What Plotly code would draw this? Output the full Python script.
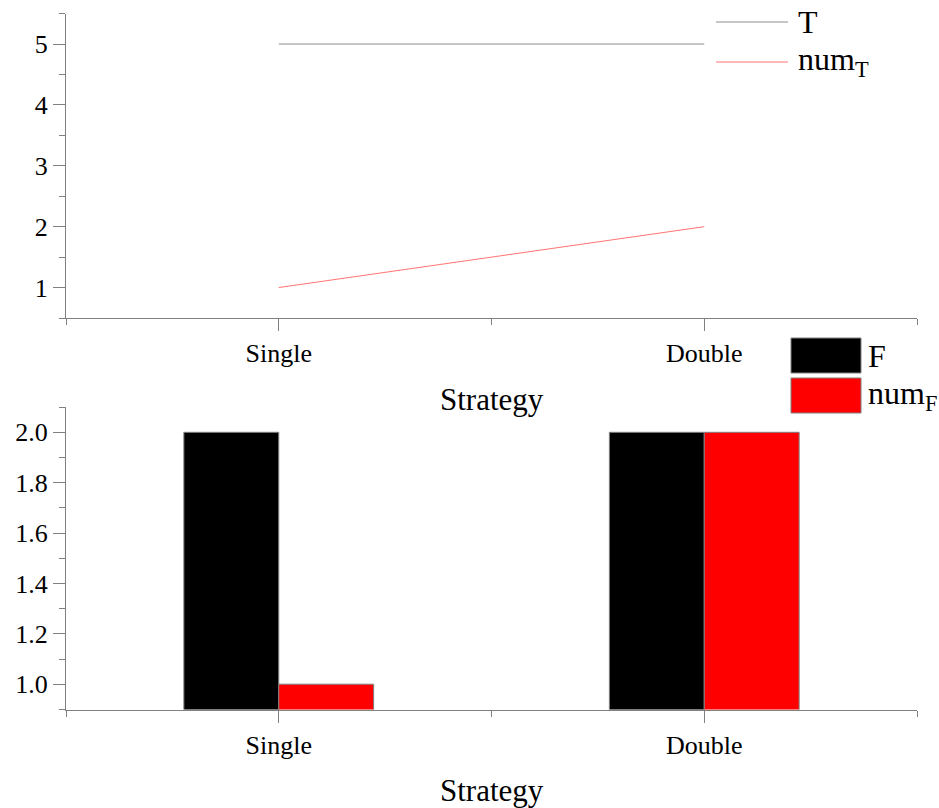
import plotly.graph_objects as go

# ---------------- data ----------------
categories = ["Single", "Double"]
T_values = [5, 5]
numT_values = [1, 2]
F_values = [2, 2]
numF_values = [1, 2]
top_series_names = ["T", "num<sub>T</sub>"]
bottom_series_names = ["F", "num<sub>F</sub>"]
top_yticks = [1, 2, 3, 4, 5]
bottom_yticks = [1.0, 1.2, 1.4, 1.6, 1.8, 2.0]
x_title = "Strategy"

W, H = 939, 808
FONT = "Liberation Serif"
AX = "#808080"


def px(x):
    return x / W


def py(y):
    return 1 - y / H


xpos = list(range(len(categories)))

fig = go.Figure()
fig.add_trace(go.Scatter(x=xpos, y=T_values, mode="lines", name="T",
                         line=dict(color="#8c8c8c", width=1),
                         xaxis="x", yaxis="y", showlegend=False))
fig.add_trace(go.Scatter(x=xpos, y=numT_values, mode="lines", name="num_T",
                         line=dict(color="rgba(255,0,0,0.55)", width=1),
                         xaxis="x", yaxis="y", showlegend=False))
fig.add_trace(go.Bar(x=xpos, y=F_values, name="F",
                     marker=dict(color="black", line=dict(color=AX, width=1)),
                     xaxis="x2", yaxis="y2", showlegend=False))
fig.add_trace(go.Bar(x=xpos, y=numF_values, name="num_F",
                     marker=dict(color="#ff0000", line=dict(color=AX, width=1)),
                     xaxis="x2", yaxis="y2", showlegend=False))

tickfont = dict(family=FONT, size=26, color="black")
common = dict(showline=True, linecolor=AX, linewidth=1, ticks="outside",
              ticklen=12, tickwidth=1, tickcolor=AX, showgrid=False,
              zeroline=False, tickfont=tickfont, automargin=False)

xdom = [px(66), px(917)]
xcommon = dict(common, range=[-0.5, 1.5], tickmode="array", tickvals=xpos,
               ticktext=categories,
               minor=dict(tickmode="array", tickvals=[-0.5, 0.5, 1.5],
                          ticklen=6, tickcolor=AX, ticks="outside", showgrid=False))

fig.update_layout(
    width=W, height=H,
    font=dict(family=FONT, size=26, color="black"),
    margin=dict(l=0, r=0, t=0, b=0),
    paper_bgcolor="white", plot_bgcolor="white",
    barmode="group", bargap=0.554, bargroupgap=0,
    xaxis=dict(xcommon, domain=xdom, anchor="y"),
    yaxis=dict(common, domain=[py(318), py(13.6)], anchor="x",
               range=[0.5, 5.5], tickmode="array", tickvals=top_yticks,
               minor=dict(dtick=0.5, tick0=0.5, ticklen=6, tickcolor=AX,
                          ticks="outside", showgrid=False)),
    xaxis2=dict(xcommon, domain=xdom, anchor="y2"),
    yaxis2=dict(common, domain=[py(709.5), py(407)], anchor="x2",
                range=[0.8995, 2.1005], tickmode="array", tickvals=bottom_yticks,
                ticktext=[f"{v:.1f}" for v in bottom_yticks],
                minor=dict(dtick=0.1, tick0=0, ticklen=6, tickcolor=AX,
                           ticks="outside", showgrid=False)),
    showlegend=False,
)

# axis titles
for yy in (399, 790):
    fig.add_annotation(x=0.5 * (xdom[0] + xdom[1]), y=py(yy), xref="paper", yref="paper",
                       text=x_title, showarrow=False, xanchor="center", yanchor="middle",
                       font=dict(family=FONT, size=31, color="black"))

legfont = dict(family=FONT, size=32, color="black")
# top legend (lines)
top_colors = ["#8c8c8c", "rgba(255,0,0,0.55)"]
for name, col, yy in zip(top_series_names, top_colors, (22, 62)):
    fig.add_shape(type="line", xref="paper", yref="paper", x0=px(716), x1=px(788),
                  y0=py(yy), y1=py(yy), line=dict(color=col, width=1))
    fig.add_annotation(x=px(796), y=py(yy), xref="paper", yref="paper", text=name,
                       showarrow=False, xanchor="left", yanchor="middle", font=legfont)

# bottom legend (bars)
bottom_colors = ["black", "#ff0000"]
for name, col, (y0, y1) in zip(bottom_series_names, bottom_colors, ((338, 373), (378, 413))):
    fig.add_shape(type="rect", xref="paper", yref="paper", x0=px(791), x1=px(861),
                  y0=py(y1), y1=py(y0), fillcolor=col, line=dict(color=AX, width=1))
    fig.add_annotation(x=px(866), y=py((y0 + y1) / 2), xref="paper", yref="paper", text=name,
                       showarrow=False, xanchor="left", yanchor="middle", font=legfont)

fig.write_html("out.html")
